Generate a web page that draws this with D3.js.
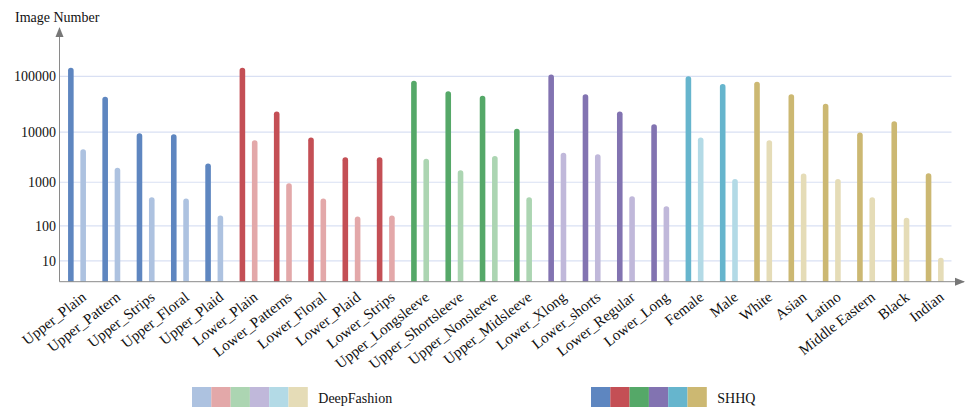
<!DOCTYPE html>
<html>
<head>
<meta charset="utf-8">
<script src="https://cdn.jsdelivr.net/npm/d3@7"></script>
<style>
  html, body { margin: 0; padding: 0; background: #ffffff; }
  svg { display: block; font-family: "Liberation Serif", "Times New Roman", serif; }
</style>
</head>
<body>
<svg id="chart" width="975" height="418"></svg>
<script>
const categories = ["Upper_Plain","Upper_Pattern","Upper_Strips","Upper_Floral","Upper_Plaid",
  "Lower_Plain","Lower_Patterns","Lower_Floral","Lower_Plaid","Lower_Strips",
  "Upper_Longsleeve","Upper_Shortsleeve","Upper_Nonsleeve","Upper_Midsleeve",
  "Lower_Xlong","Lower_shorts","Lower_Regular","Lower_Long",
  "Female","Male",
  "White","Asian","Latino","Middle Eastern","Black","Indian"];
const groupOf = [0,0,0,0,0, 1,1,1,1,1, 2,2,2,2, 3,3,3,3, 4,4, 5,5,5,5,5,5];
const shhqValues = [140000, 44000, 9500, 9100, 2450, 140000, 24000, 7900, 3250, 3250,
  84000, 55000, 46000, 11600, 107000, 49000, 24000, 14000, 100000, 74000,
  81000, 49000, 33000, 9800, 16000, 1550];
const deepFashionValues = [4700, 2000, 470, 440, 180, 7000, 950, 440, 170, 180,
  3050, 1780, 3450, 470, 4000, 3750, 500, 295, 7900, 1170,
  7000, 1520, 1170, 470, 157, 12.6];
const yTicks = [10, 100, 1000, 10000, 100000];
const seriesNames = ["DeepFashion", "SHHQ"];
const darkColors = ["#5e86c0", "#c44f55", "#55a868", "#8273b1", "#66b5cd", "#ccb872"];
const lightColors = ["#adc2e0", "#e3a8a9", "#acd5b2", "#c0b8da", "#b3dae6", "#e5dcb7"];

(function () {
const svg = d3.select("#chart");
const left = 59.5, right = 951.5, bottom = 281.7, plotTop = 30;

const x = d3.scaleBand().domain(categories).range([left, right]).paddingInner(0).paddingOuter(0);
// axis mapping: power-stretched log scale
const yL = d3.scalePow().exponent(1.42).domain([0, 5.77]).range([bottom, plotTop]);
const y = v => yL(Math.log10(v));

// gridlines
svg.append("g").selectAll("line").data(yTicks).join("line")
  .attr("x1", left).attr("x2", right)
  .attr("y1", d => y(d)).attr("y2", d => y(d))
  .attr("stroke", "#d9e0f3").attr("stroke-width", 1.2);

// tick labels
svg.append("g").selectAll("text").data(yTicks).join("text")
  .attr("x", 56).attr("y", d => y(d)).attr("dy", "0.35em")
  .attr("text-anchor", "end").attr("font-size", 14).attr("fill", "#111")
  .text(d => d);

// bars
const bw = 5.6, r = bw / 2;
function barPath(cx, v) {
  const t = y(v);
  return `M${cx - r},${bottom} V${t + r} A${r},${r} 0 0 1 ${cx + r},${t + r} V${bottom} Z`;
}
const bars = svg.append("g");
categories.forEach((c, i) => {
  const cx = x(c) + x.bandwidth() / 2;
  bars.append("path").attr("d", barPath(cx - 5.8, shhqValues[i])).attr("fill", darkColors[groupOf[i]]);
  bars.append("path").attr("d", barPath(cx + 6.5, deepFashionValues[i])).attr("fill", lightColors[groupOf[i]]);
});

// axes lines with arrows
const defs = svg.append("defs");
defs.append("marker").attr("id", "arrow").attr("viewBox", "0 0 10 10")
  .attr("refX", 9).attr("refY", 5).attr("markerWidth", 10).attr("markerHeight", 10)
  .attr("markerUnits", "userSpaceOnUse").attr("orient", "auto")
  .append("path").attr("d", "M0,1 L10,5 L0,9 Z").attr("fill", "#777");
svg.append("line").attr("x1", left).attr("x2", left).attr("y1", bottom).attr("y2", 28)
  .attr("stroke", "#8a8a8a").attr("stroke-width", 1).attr("marker-end", "url(#arrow)");
svg.append("line").attr("x1", left).attr("x2", 964).attr("y1", bottom).attr("y2", bottom)
  .attr("stroke", "#8a8a8a").attr("stroke-width", 1).attr("marker-end", "url(#arrow)");

// y title
svg.append("text").attr("x", 15).attr("y", 22).attr("font-size", 14).attr("fill", "#111").text("Image Number");

// x labels
svg.append("g").selectAll("text").data(categories).join("text")
  .attr("transform", d => `translate(${x(d) + x.bandwidth() / 2 + 4},${bottom + 9}) rotate(-38)`)
  .attr("text-anchor", "end").attr("dy", "0.7em")
  .attr("font-size", 15).attr("fill", "#111")
  .text(d => d);

// legend
const legendData = [
  {name: seriesNames[0], colors: lightColors, x: 192},
  {name: seriesNames[1], colors: darkColors, x: 591}
];
const sw = 19.3, sh = 20, ly = 387;
legendData.forEach(L => {
  const g = svg.append("g");
  g.selectAll("rect").data(L.colors).join("rect")
    .attr("x", (d, i) => L.x + i * sw).attr("y", ly).attr("width", sw).attr("height", sh)
    .attr("fill", d => d);
  g.append("text").attr("x", L.x + 6 * sw + 10.5).attr("y", ly + 11).attr("dy", "0.35em")
    .attr("font-size", 14).attr("fill", "#111").text(L.name);
});
})();
</script>
</body>
</html>
